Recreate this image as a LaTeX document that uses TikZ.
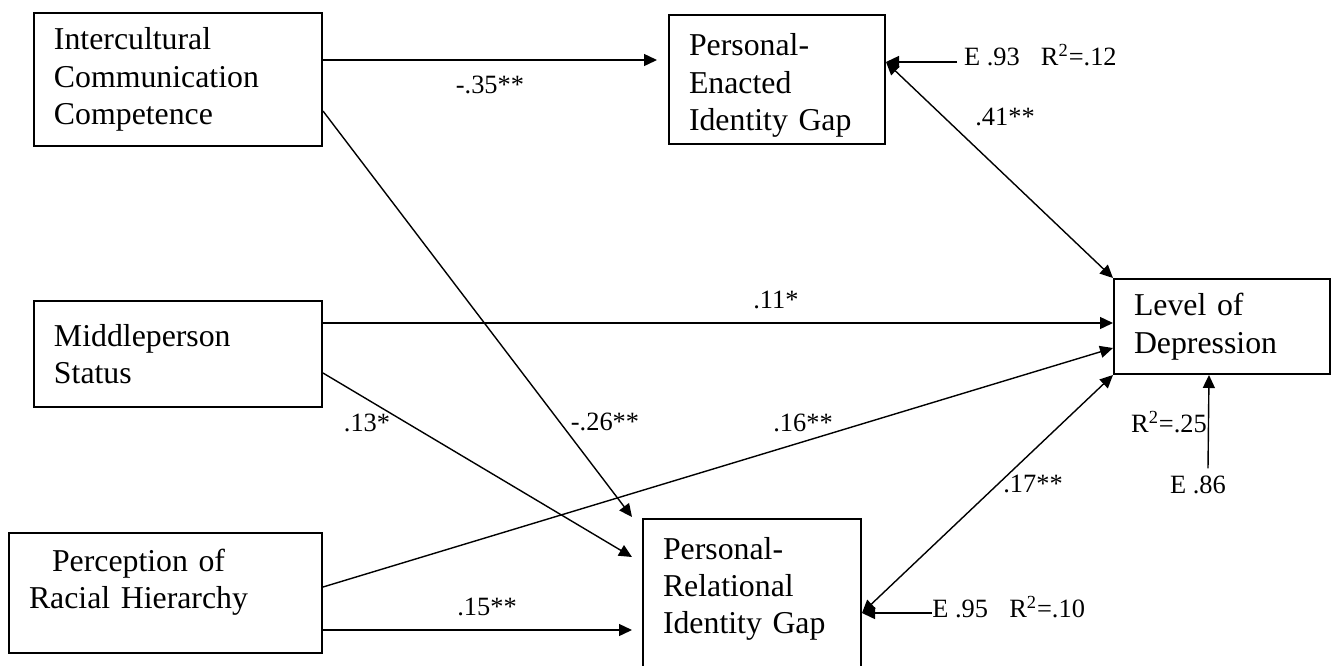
\documentclass[tikz,border=0pt]{standalone}
\usepackage{fontspec}
\setmainfont{Liberation Serif}
\usetikzlibrary{arrows.meta}
\tikzset{>={Triangle[length=6.5pt,width=6pt]},every node/.style={font=\fontsize{13.2}{15}\selectfont},
 box/.style={draw,line width=1pt,anchor=north west,align=left,inner xsep=10pt,
 font=\fontsize{15.9}{18.7}\selectfont},every edge/.style={draw,line width=0.7pt,->}}
\begin{document}
\begin{tikzpicture}[x=0.5pt,y=-0.5pt]
\useasboundingbox (0,0) rectangle (1334,665);
\clip (0,0) rectangle (1334,665);
% variables
\node[box,text width=124pt,minimum height=66.5pt] (icc) at (33,12) {Intercultural\\Communication\\Competence};
\node[box,text width=124pt,minimum height=53pt] (mps) at (33,300) {Middleperson\\Status};
\node[box,text width=136.5pt,minimum height=60pt,text depth=33pt] (prh) at (8,532) {\hspace*{11.5pt}Perception of\\Racial Hierarchy};
\node[box,text width=88pt,minimum height=64pt,text height=17pt] (peig) at (668,14) {Personal-\\Enacted\\Identity Gap};
\node[box,text width=89pt,minimum height=85pt,text depth=56pt] (prig) at (642,518) {Personal-\\Relational\\Identity Gap};
\node[box,text width=88pt,minimum height=47.5pt] (lod) at (1113,278) {Level of\\Depression};
% errors
\node[anchor=base west] (e93) at (957,65) {E .93\hspace{0.8em}R\textsuperscript{2}=.12};
\node[anchor=base west,inner xsep=0pt] (e95) at (932,617) {E .95\hspace{0.8em}R\textsuperscript{2}=.10};
\node[anchor=base] (e86) at (1198,493) {E .86};
\node[anchor=base] (r25) at (1169,432) {R\textsuperscript{2}=.25};
% paths
\path ([yshift=-24pt]icc.north east) edge[shorten >=5.5pt] ([yshift=-23pt]peig.north west)
 ([yshift=-49.5pt]icc.north east) edge ([xshift=-5pt,yshift=0.5pt]prig.north west)
 ([yshift=-11.5pt]mps.north east) edge ([yshift=-22.5pt]lod.north west)
 ([yshift=-36.5pt]mps.north east) edge ([xshift=-5pt,yshift=-19.5pt]prig.north west)
 ([yshift=-27.5pt]prh.north east) edge ([yshift=-35pt]lod.north west)
 ([yshift=-49pt]prh.north east) edge ([xshift=-5pt,yshift=-56pt]prig.north west)
 ([yshift=-24pt]peig.north east) edge[<->] (lod.north west)
 ([yshift=-47.5pt]prig.north east) edge[<->] (lod.south west)
 ([yshift=1.5pt]e93.base west) edge ([yshift=-24pt]peig.north east)
 ([yshift=2pt]e95.base west) edge ([yshift=-47.5pt]prig.north east)
 ([xshift=5pt]e86.north) edge ([xshift=-6.5pt]lod.south);
% coefficients
\node (b35) at (490,85) {-.35**};
\node (b41) at (1005,117) {.41**};
\node (b11) at (776,300) {.11*};
\node (b26) at (605,422) {-.26**};
\node (b16) at (803,423) {.16**};
\node (b13) at (367,423) {.13*};
\node (b15) at (487,607) {.15**};
\node (b17) at (1033,484) {.17**};
\end{tikzpicture}
\end{document}
